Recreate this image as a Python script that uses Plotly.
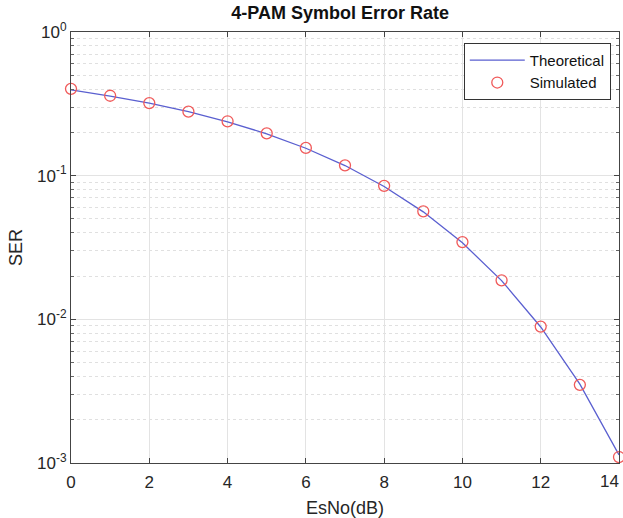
import plotly.graph_objects as go

esno_db = list(range(0, 15))
ser_theory = [0.3954, 0.3583, 0.3195, 0.2787, 0.2371, 0.1956, 0.1552, 0.1176,
              0.0841, 0.0560, 0.0341, 0.0186, 0.00885, 0.00354, 0.00114]
ser_sim = [0.402, 0.360, 0.320, 0.279, 0.239, 0.197, 0.156, 0.118,
           0.085, 0.0565, 0.0345, 0.0187, 0.0089, 0.0035, 0.0011]
y_tickvals = [1e-3, 1e-2, 1e-1, 1]
y_ticktext = ["10<sup>-3</sup>", "10<sup>-2</sup>", "10<sup>-1</sup>", "10<sup>0</sup>"]
x_tickvals = [0, 2, 4, 6, 8, 10, 12, 14]
x_ticktext = ["0", "2", "4", "6", "8", "10", "12", "14"]

font = "Liberation Sans, Arial, sans-serif"

fig = go.Figure()
fig.add_trace(go.Scatter(x=esno_db, y=ser_theory, mode="lines", name="Theoretical",
                         line=dict(color="#5a5fd0", width=1.3)))
fig.add_trace(go.Scatter(x=esno_db, y=ser_sim, mode="markers", name="Simulated",
                         marker=dict(symbol="circle-open", size=11, color="#f05a5a",
                                     line=dict(width=1.3)),
                         cliponaxis=False))

# last tick label drawn right-aligned so it stays inside the picture
fig.add_annotation(x=x_tickvals[-1], xref="x", xanchor="right", xshift=2,
                   y=0, yref="paper", yanchor="top", yshift=-7,
                   text=x_ticktext[-1], showarrow=False,
                   font=dict(size=17, color="#262626"))

fig.update_layout(
    width=623, height=518,
    margin=dict(l=71, r=4, t=32, b=55, autoexpand=False),
    paper_bgcolor="white", plot_bgcolor="white",
    font=dict(family=font, size=16, color="#262626"),
    title=dict(text="<b>4-PAM Symbol Error Rate</b>", x=0.546, xanchor="center",
               y=0.975, yanchor="middle", font=dict(size=18, color="#111")),
    legend=dict(x=0.985, y=0.975, xanchor="right", yanchor="top",
                bordercolor="#333", borderwidth=1, bgcolor="white",
                font=dict(size=15, color="#111"), tracegroupgap=0,
                itemwidth=55),
    showlegend=True,
)
fig.update_xaxes(range=[0, 14], tickvals=x_tickvals[:-1], ticktext=x_ticktext[:-1],
                 showgrid=True,
                 gridcolor="#e3e3e3", gridwidth=1, ticks="inside", ticklen=5,
                 tickcolor="#444", showline=True, linecolor="#444", linewidth=1,
                 mirror="ticks", zeroline=False, ticklabeloverflow="allow",
                 ticklabelstandoff=4, automargin=False,
                 title=dict(text="EsNo(dB)", font=dict(size=18), standoff=9),
                 tickfont=dict(size=17))
fig.update_yaxes(type="log", range=[-3, 0], tickvals=y_tickvals, ticktext=y_ticktext,
                 showgrid=True, gridcolor="#e3e3e3", gridwidth=1,
                 ticks="inside", ticklen=5, tickcolor="#444",
                 showline=True, linecolor="#444", linewidth=1, mirror="ticks",
                 zeroline=False, automargin=False,
                 minor=dict(dtick="D1", showgrid=True, gridcolor="#e0e0e0",
                            griddash="dot", ticks="inside", ticklen=3, tickcolor="#666"),
                 title=dict(text="SER", font=dict(size=18), standoff=9),
                 tickfont=dict(size=17))

fig.write_html("out.html")
